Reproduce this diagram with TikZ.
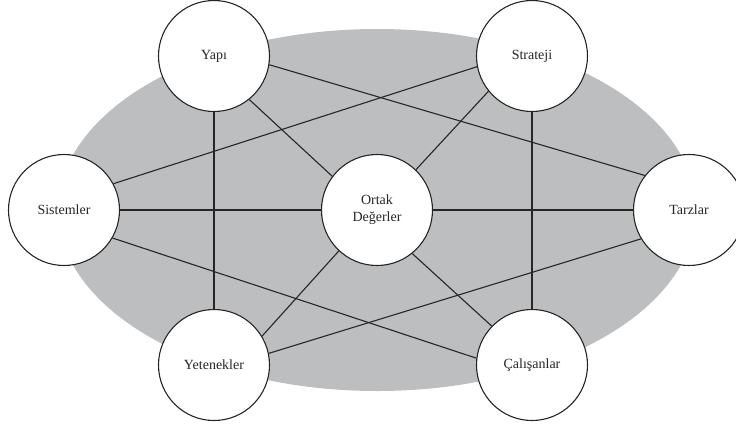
\documentclass[tikz,border=0pt]{standalone}
\usepackage{fontspec}
\setmainfont{Liberation Serif}
\usepackage{xcolor}
\usepackage{tikz}
\definecolor{bggray}{RGB}{189,190,192}
\tikzset{
  sfac/.style={circle, draw=black!85, line width=1.1pt, fill=white, minimum size=111pt, inner sep=0pt, font=\rmfamily\fontsize{14}{17}\selectfont, text=black!85, align=center},
  tie/.style={line width=1.1pt, black!85},
}

\begin{document}
\begin{tikzpicture}[x=1pt,y=-1pt]
\useasboundingbox (0,0) rectangle (736,426);
% --- background ---
\fill[bggray] (377,210) ellipse [x radius=319pt, y radius=181pt];
% --- the seven factors ---
\node[sfac] (yapi) at (214,56) {Yapı};
\node[sfac] (strateji) at (532,56) {Strateji};
\node[sfac] (sistem) at (64,210) {Sistemler};
\node[sfac] (ortak) at (377,210) {Ortak\\Değerler};
\node[sfac] (tarz) at (689,210) {Tarzlar};
\node[sfac] (yetenek) at (214,365) {Yetenekler};
\node[sfac] (calisan) at (532,365) {Çalışanlar};
% --- links ---
\draw[tie] (yapi.-9.5) -- (tarz.142.7);
\draw[tie] (yapi.-51) -- (ortak.143.7);
\draw[tie] (yapi.south) -- (yetenek.north);
\draw[tie] (sistem.28) -- (strateji.191.5);
\draw[tie] (strateji.219) -- (ortak.46.5);
\draw[tie] (strateji.south) -- (calisan.north);
\draw[tie] (sistem.east) -- (ortak.west);
\draw[tie] (ortak.east) -- (tarz.west);
\draw[tie] (sistem.-30) -- (calisan.173);
\draw[tie] (yetenek.31.5) -- (ortak.227);
\draw[tie] (yetenek.12) -- (tarz.211.7);
\draw[tie] (ortak.-51) -- (calisan.136.4);
\end{tikzpicture}
\end{document}
